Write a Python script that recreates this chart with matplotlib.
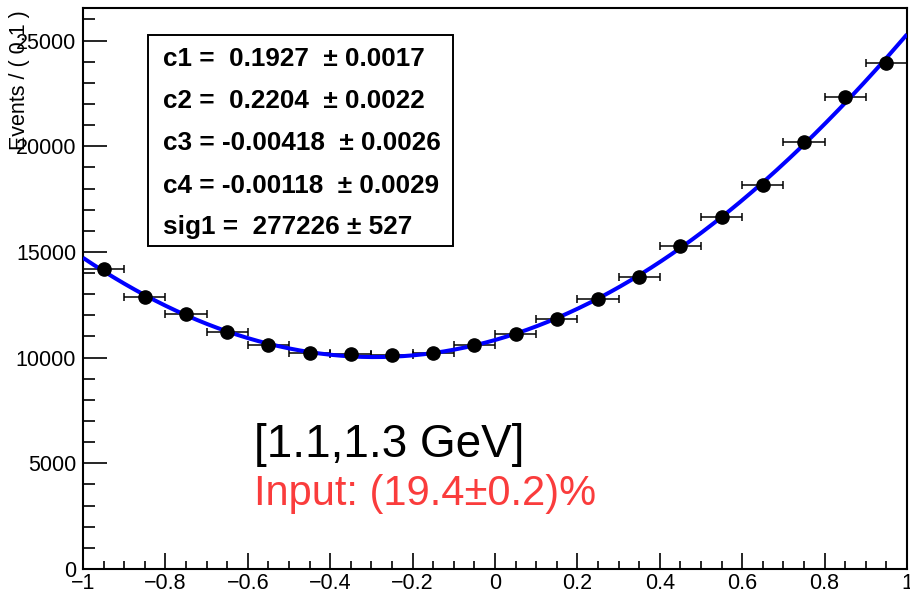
import numpy as np
import matplotlib
matplotlib.use('Agg')
import matplotlib.pyplot as plt
from matplotlib.patches import Rectangle
from matplotlib.ticker import MultipleLocator

plt.rcParams['font.family'] = ['Liberation Sans', 'DejaVu Sans']

# binned data, bin width 0.1
bin_centers = [-0.95, -0.85, -0.75, -0.65, -0.55, -0.45, -0.35, -0.25, -0.15, -0.05,
               0.05, 0.15, 0.25, 0.35, 0.45, 0.55, 0.65, 0.75, 0.85, 0.95]
events = [14180, 12850, 12050, 11190, 10610, 10200, 10190, 10110, 10230, 10600,
          11100, 11810, 12750, 13830, 15280, 16640, 18170, 20210, 22310, 23950]
bin_half_width = 0.05

fit_params = ['c1 =  0.1927  \u00b1 0.0017',
              'c2 =  0.2204  \u00b1 0.0022',
              'c3 = -0.00418  \u00b1 0.0026',
              'c4 = -0.00118  \u00b1 0.0029',
              'sig1 =  277226 \u00b1 527']
range_label = '[1.1,1.3 GeV]'
input_label = 'Input: (19.4\u00b10.2)%'

x = np.array(bin_centers)
y = np.array(events, dtype=float)
yerr = np.sqrt(y)

# 4th order polynomial fit to the histogram
coef = np.polyfit(x, y, 4, w=1 / yerr)
xf = np.linspace(-1, 1, 400)
yf = np.polyval(coef, xf)

fig = plt.figure(figsize=(9.10, 5.98), dpi=100)
ax = fig.add_axes([83 / 910, 29 / 598, 824 / 910, 561 / 598])

ax.plot(xf, yf, color='#0000ff', lw=2.9, zorder=3, solid_capstyle='butt')
ax.errorbar(x, y, xerr=bin_half_width, yerr=yerr, fmt='none', ecolor='black',
            elinewidth=1.1, capsize=2.9, capthick=1.1, zorder=2)
ax.plot(x, y, 'o', color='black', ms=9.5, zorder=4)

ax.set_xlim(-1, 1)
ax.set_ylim(0, 26540)
ax.xaxis.set_major_locator(MultipleLocator(0.2))
ax.xaxis.set_minor_locator(MultipleLocator(0.05))
ax.yaxis.set_major_locator(MultipleLocator(5000))
ax.yaxis.set_minor_locator(MultipleLocator(1000))
ax.xaxis.set_major_formatter(
    plt.FuncFormatter(lambda v, p: f'{round(v, 2) + 0:g}'.replace('-', '\u2212')))
ax.tick_params(which='both', direction='in', top=False, right=False, width=1.2,
               labelsize=15.5, colors='black')
ax.tick_params(axis='y', which='major', length=17.5, pad=5)
ax.tick_params(axis='y', which='minor', length=8.7)
ax.tick_params(axis='x', which='major', length=11.5, pad=3)
ax.tick_params(axis='x', which='minor', length=5.8)
for s in ax.spines.values():
    s.set_linewidth(1.5)

fig.text(20 / 910, 1 - 10 / 598, 'Events / ( 0.1 )', rotation=90, ha='center', va='top',
         fontsize=15.5)

# fit result box
ax.add_patch(Rectangle((0.0789, 0.5758), 0.3701, 0.3761, transform=ax.transAxes,
                       facecolor='white', edgecolor='black', lw=1.4, zorder=5))
row_y = [0.8966, 0.8217, 0.7469, 0.6702, 0.5971]
for ty, s in zip(row_y, fit_params):
    ax.text(0.097, ty, s, transform=ax.transAxes, fontsize=18.8, fontweight='bold',
            va='baseline', ha='left', zorder=6)

ax.text(0.2075, 0.1996, range_label, transform=ax.transAxes, fontsize=33,
        color='black', va='baseline', ha='left')
ax.text(0.2075, 0.114, input_label, transform=ax.transAxes, fontsize=30,
        color='#fa3c3c', va='baseline', ha='left')

fig.savefig('out.png', dpi=100)
